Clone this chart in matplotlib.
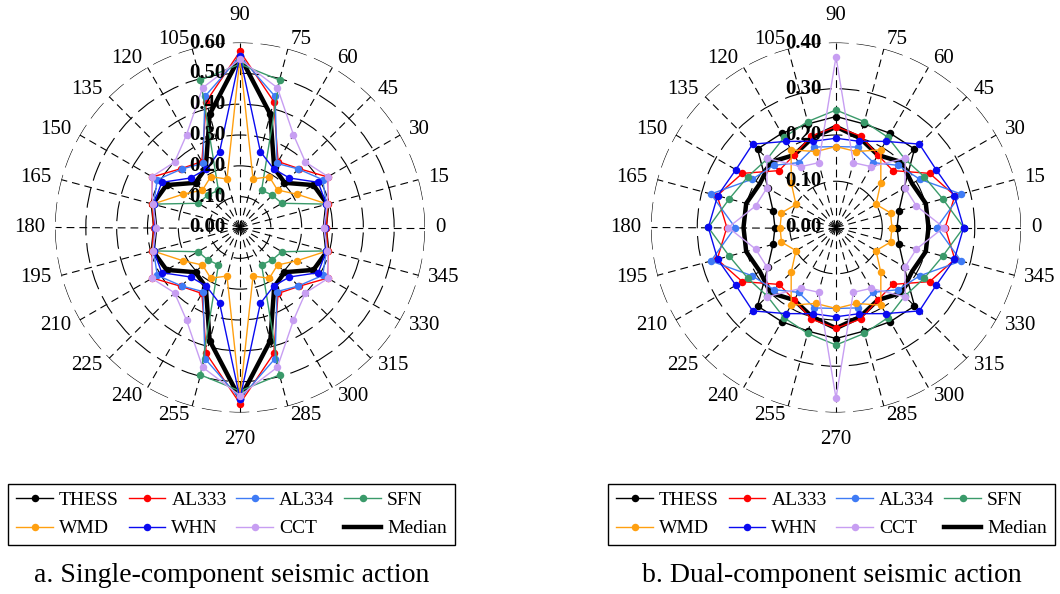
import numpy as np
import matplotlib
matplotlib.use("Agg")
import matplotlib.pyplot as plt
import matplotlib.transforms as mtransforms
from matplotlib.lines import Line2D

plt.rcParams['font.family'] = ['Liberation Serif', 'DejaVu Serif']

# ---------------- data ----------------
angles_deg = list(range(0, 360, 15))
angle_labels = [str(a) for a in angles_deg]
series_names = ['THESS', 'AL333', 'AL334', 'SFN', 'WMD', 'WHN', 'CCT']
series_colors = ['#000000', '#FF0000', '#3F7BF5', '#3A9A6A', '#FFA010', '#0A0AF0', '#C79EF2']

# a. Single-component seismic action
single_thess = [.275, .29, .273, .203, .225, .38, .555, .38, .225, .203, .273, .29,
                .275, .29, .273, .203, .225, .38, .555, .38, .225, .203, .273, .29]
single_al333 = [.28, .295, .328, .27, .247, .423, .571, .423, .247, .27, .328, .295,
                .28, .295, .328, .27, .247, .423, .571, .423, .247, .27, .328, .295]
single_al334 = [.275, .29, .31, .268, .24, .44, .555, .44, .24, .268, .31, .29,
                .275, .29, .31, .268, .24, .44, .555, .44, .24, .268, .31, .29]
single_sfn = [.275, .293, .157, .148, .14, .495, .53, .495, .14, .148, .157, .293,
              .275, .293, .157, .148, .14, .495, .53, .495, .14, .148, .157, .293]
single_wmd = [.275, .293, .215, .172, .19, .163, .55, .163, .19, .172, .215, .293,
              .275, .293, .215, .172, .19, .163, .55, .163, .19, .172, .215, .293]
single_whn = [.275, .29, .293, .227, .219, .255, .555, .255, .219, .227, .293, .29,
              .275, .29, .293, .227, .219, .255, .555, .255, .219, .227, .293, .29]
single_cct = [.272, .293, .33, .30, .347, .469, .545, .469, .347, .30, .33, .293,
              .272, .293, .33, .30, .347, .469, .545, .469, .347, .30, .33, .293]
single_median = [.275, .293, .275, .205, .222, .38, .555, .38, .222, .205, .275, .293,
                 .275, .293, .275, .205, .222, .38, .555, .38, .222, .205, .275, .293]

# b. Dual-component seismic action
dual_thess = [.132, .141, .17, .24, .235, .232, .24, .232, .235, .24, .17, .141,
              .132, .141, .17, .24, .235, .232, .24, .232, .235, .24, .17, .141]
dual_al333 = [.236, .266, .234, .174, .181, .205, .218, .205, .181, .174, .234, .266,
              .236, .266, .234, .174, .181, .205, .218, .205, .181, .174, .234, .266]
dual_al334 = [.218, .28, .209, .19, .162, .18, .175, .18, .162, .19, .209, .28,
              .218, .28, .209, .19, .162, .18, .175, .18, .162, .19, .209, .28]
dual_sfn = [.276, .239, .22, .21, .225, .237, .254, .237, .225, .21, .22, .239,
            .276, .239, .22, .21, .225, .237, .254, .237, .225, .21, .22, .239]
dual_wmd = [.121, .122, .10, .137, .194, .17, .175, .17, .194, .137, .10, .122,
            .121, .122, .10, .137, .194, .17, .175, .17, .194, .137, .10, .122]
dual_whn = [.276, .265, .25, .255, .215, .193, .193, .193, .215, .255, .25, .265,
            .276, .265, .25, .255, .215, .193, .193, .193, .215, .255, .25, .265]
dual_cct = [.233, .18, .172, .212, .152, .145, .369, .145, .152, .212, .172, .18,
            .233, .18, .172, .212, .152, .145, .369, .145, .152, .212, .172, .18]
dual_median = [.20, .201, .19, .20, .181, .20, .218, .20, .181, .20, .19, .201,
               .20, .201, .19, .20, .181, .20, .218, .20, .181, .20, .19, .201]

single_ticks = [0.0, 0.1, 0.2, 0.3, 0.4, 0.5, 0.6]
single_tick_labels = ['0.00', '0.10', '0.20', '0.30', '0.40', '0.50', '0.60']
dual_ticks = [0.0, 0.1, 0.2, 0.3, 0.4]
dual_tick_labels = ['0.00', '0.10', '0.20', '0.30', '0.40']

caption_a = 'a. Single-component seismic action'
caption_b = 'b. Dual-component seismic action'

# ---------------- figure ----------------
W, H = 1060, 594
fig = plt.figure(figsize=(W / 100, H / 100), dpi=100)

R_PX = 185.0
CY = 227.5


def panel_axes(cx):
    return fig.add_axes([(cx - R_PX) / W, (H - CY - R_PX) / H, 2 * R_PX / W, 2 * R_PX / H],
                        projection='polar')


def closed(vals):
    return list(vals) + [vals[0]]


theta = np.deg2rad(angles_deg + [360])


def draw_panel(ax, series, median, rticks, rlabels):
    rmax = rticks[-1]
    ax.set_ylim(0, rmax)
    ax.set_xticks(np.deg2rad(angles_deg))
    ax.set_xticklabels([])
    ax.set_yticks(rticks[1:])
    ax.set_yticklabels([])
    ax.tick_params(length=0)
    ax.xaxis.grid(True, color='black', lw=0.8, ls=(0, (7, 4.5)))
    ax.yaxis.grid(True, color='black', lw=0.8, ls=(0, (18, 7)))
    ax.spines['polar'].set_visible(False)
    ax.set_facecolor('none')

    ax.plot(theta, closed(median), color='black', lw=3.2, zorder=2.5,
            solid_joinstyle='miter')
    for vals, col in zip(series, series_colors):
        ax.plot(theta, closed(vals), color=col, lw=1.0, marker='o', markersize=5.4,
                markeredgewidth=0, zorder=3)

    # radial labels
    off = mtransforms.ScaledTranslation(-0.14, 0, fig.dpi_scale_trans)
    for r, lab in zip(rticks, rlabels):
        ax.text(np.pi / 2, r, lab, transform=ax.transData + off, ha='right', va='center',
                fontsize=15, fontweight='bold', clip_on=False, zorder=5)

    # angular labels
    for a, lab in zip(angles_deg, angle_labels):
        c, s = np.cos(np.deg2rad(a)), np.sin(np.deg2rad(a))
        if abs(s) > 0.99:
            rr = rmax * 203 / R_PX
            va = 'bottom' if s > 0 else 'top'
            ha = 'center'
        else:
            rr = rmax * 195 / R_PX
            va = 'center'
            ha = 'left' if c > 0.01 else ('right' if c < -0.01 else 'center')
        ax.text(np.deg2rad(a), rr, lab, ha=ha, va=va, fontsize=15, clip_on=False)


ax1 = panel_axes(240)
draw_panel(ax1, [single_thess, single_al333, single_al334, single_sfn, single_wmd,
                 single_whn, single_cct], single_median, single_ticks, single_tick_labels)
ax2 = panel_axes(836)
draw_panel(ax2, [dual_thess, dual_al333, dual_al334, dual_sfn, dual_wmd,
                 dual_whn, dual_cct], dual_median, dual_ticks, dual_tick_labels)

handles = [Line2D([0], [0], color=c, lw=1.0, marker='o', markersize=5.4, markeredgewidth=0)
           for c in series_colors]
handles.append(Line2D([0], [0], color='black', lw=3.2))
labels = series_names + ['Median']
# legend fills column by column; reorder so it reads row by row
order = [0, 4, 1, 5, 2, 6, 3, 7]
handles = [handles[i] for i in order]
labels = [labels[i] for i in order]

for cx, cap in [(231.5, caption_a), (831.5, caption_b)]:
    leg = fig.legend(handles, labels, loc='center', bbox_to_anchor=(cx / W, 1 - 514.5 / H),
                     ncol=4, fontsize=14, frameon=True, fancybox=False, framealpha=1,
                     edgecolor='black', handlelength=1.9, handletextpad=0.3,
                     columnspacing=0.5, labelspacing=0.55, borderpad=0.4,
                     borderaxespad=0)
    leg.get_frame().set_linewidth(1.0)
    fig.text(cx / W, 1 - 575 / H, cap, ha='center', va='center', fontsize=20)

fig.savefig('out.png', dpi=100)
